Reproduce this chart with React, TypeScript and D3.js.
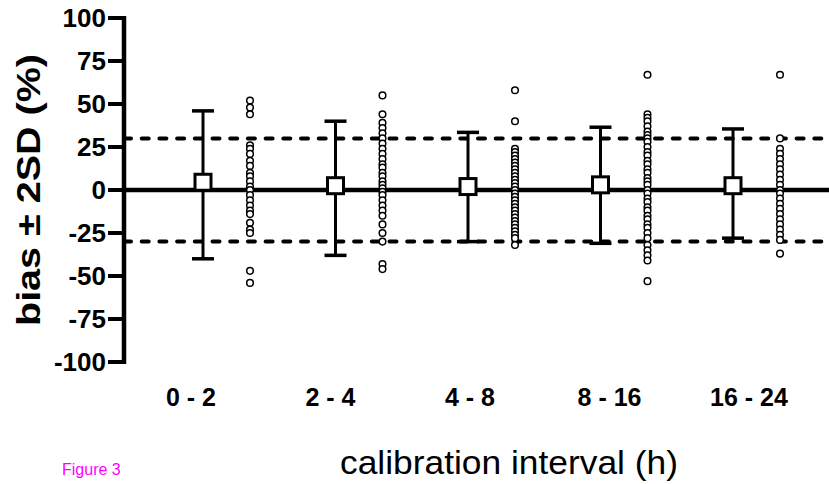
import React from "react"
import { scaleLinear, scalePoint } from "d3"

const categories = ["0 - 2", "2 - 4", "4 - 8", "8 - 16", "16 - 24"]
const biasMean = [4.5, 2.5, 2, 3, 2.5]
const upperSD = [46, 40, 33.5, 36.5, 35.5]
const lowerSD = [-40, -38, -30, -31, -28]
const limits = [30, -30]
const yTicks = [100, 75, 50, 25, 0, -25, -50, -75, -100]

const points0to2 = [52, 48, 44, 26, 24, 21, 17, 14, 10, 8, 5, 2, 0, -3, -6, -9, -12, -14, -19, -23, -25, -47, -54]
const points2to4 = [55, 44, 39, 36, 33, 30, 27, 24, 21, 18, 15, 13, 10, 8, 5, 3, 1, -1, -3, -6, -9, -12, -15, -20, -25, -30, -43, -46]
const points4to8 = [58, 40, 24, 22, 20, 18, 16, 14, 12, 10, 8, 6, 4, 2, 0, -2, -4, -6, -8, -10, -12, -14, -16, -18, -20, -22, -24, -26, -28, -32]
const points8to16 = [67, 44, 42, 40, 37, 34, 32, 30, 28, 25, 22, 20, 17, 15, 12, 10, 7, 5, 3, 0, -2, -5, -7, -10, -12, -15, -17, -20, -22, -25, -28, -32, -35, -38, -41, -53]
const points16to24 = [67, 30, 24, 21, 18, 15, 12, 9, 6, 3, 0, -2, -5, -8, -11, -14, -17, -20, -23, -26, -29, -37]
const pointSets = [points0to2, points2to4, points4to8, points8to16, points16to24]

const W = 829
const H = 484
const axisX = 124
const font = "'Liberation Sans', Arial, sans-serif"

export default function App() {
    const y = scaleLinear().domain([-100, 100]).range([362, 18])
    // mean +- SD columns and the raw scatter columns alternate, like in Prism
    const xMean = scalePoint<string>().domain(categories).range([203, 733])
    const xScatter = scalePoint<string>().domain(categories).range([250, 780])
    const xLabel = scalePoint<string>().domain(categories).range([191, 749])

    return (
        <svg width={W} height={H} style={{ position: "absolute", left: 0, top: 0, background: "#fff" }}>
            {/* reference lines */}
            {limits.map((l) => (
                <line key={l} x1={axisX} x2={W} y1={y(l)} y2={y(l)} stroke="#000" strokeWidth={4}
                    strokeDasharray="7 10.7" strokeLinecap="round" />
            ))}
            <line x1={axisX} x2={W} y1={y(0)} y2={y(0)} stroke="#000" strokeWidth={4.5} />

            {/* y axis */}
            <line x1={axisX} x2={axisX} y1={y(100) - 2} y2={y(-100) + 2} stroke="#000" strokeWidth={4.5} />
            {yTicks.map((t) => (
                <g key={t}>
                    <line x1={axisX - 16} x2={axisX} y1={y(t)} y2={y(t)} stroke="#000" strokeWidth={4} />
                    <text x={axisX - 18} y={y(t)} dy="0.36em" textAnchor="end" fontFamily={font}
                        fontWeight="bold" fontSize={26}>{t}</text>
                </g>
            ))}

            {/* error bars */}
            {categories.map((c, i) => {
                const cx = xMean(c) as number
                return (
                    <g key={c}>
                        <line x1={cx} x2={cx} y1={y(upperSD[i])} y2={y(lowerSD[i])} stroke="#000" strokeWidth={3} />
                        <line x1={cx - 11} x2={cx + 11} y1={y(upperSD[i])} y2={y(upperSD[i])} stroke="#000" strokeWidth={3.5} />
                        <line x1={cx - 11} x2={cx + 11} y1={y(lowerSD[i])} y2={y(lowerSD[i])} stroke="#000" strokeWidth={3.5} />
                        <rect x={cx - 8} y={y(biasMean[i]) - 8} width={16} height={16} fill="#fff" stroke="#000" strokeWidth={3} />
                    </g>
                )
            })}

            {/* individual points */}
            {categories.map((c, i) => (
                <g key={c}>
                    {pointSets[i].map((v, j) => (
                        <circle key={j} cx={xScatter(c)} cy={y(v)} r={3.3} fill="#fff" stroke="#000" strokeWidth={1.5} />
                    ))}
                </g>
            ))}

            {/* category labels */}
            {categories.map((c) => (
                <text key={c} x={xLabel(c)} y={406} textAnchor="middle" fontFamily={font} fontWeight="bold"
                    fontSize={25}>{c}</text>
            ))}

            <text x={509} y={474} textAnchor="middle" fontFamily={font} fontSize={34} textLength={338}
                lengthAdjust="spacingAndGlyphs">calibration interval (h)</text>
            <text transform={`translate(40,${190}) rotate(-90)`} textAnchor="middle" fontFamily={font}
                fontWeight="bold" fontSize={34} textLength={272} lengthAdjust="spacingAndGlyphs">bias ± 2SD (%)</text>
            <text x={62} y={475} fill="#ff00ff" fontFamily={font} fontSize={16}>Figure 3</text>
        </svg>
    )
}
